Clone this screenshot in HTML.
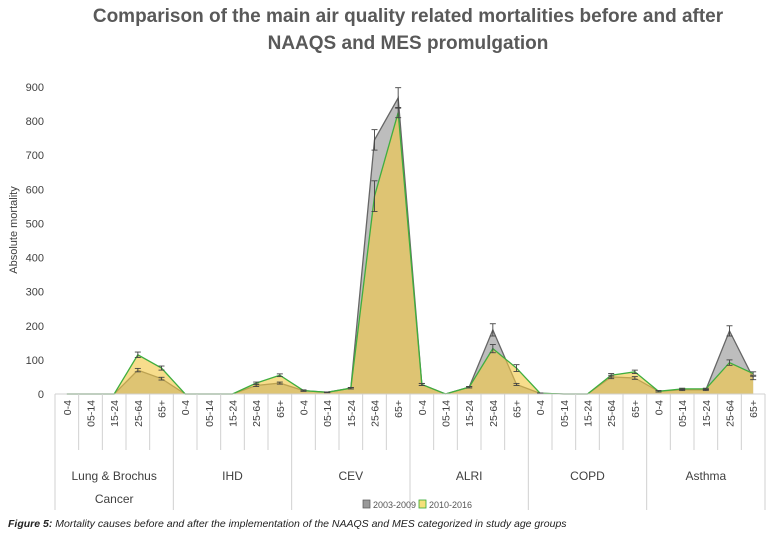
<!DOCTYPE html>
<html><head><meta charset="utf-8"><style>
body{margin:0;background:#fff;width:770px;height:540px;overflow:hidden;font-family:"Liberation Sans",sans-serif}
</style></head><body>
<svg id="chart" width="770" height="540" xmlns="http://www.w3.org/2000/svg" font-family="Liberation Sans, sans-serif">
<text x="408" y="22" text-anchor="middle" font-size="19" font-weight="bold" fill="#595959">Comparison of the main air quality related mortalities before and after</text>
<text x="408" y="49" text-anchor="middle" font-size="19" font-weight="bold" fill="#595959">NAAQS and MES promulgation</text>
<text transform="translate(17,230) rotate(-90)" text-anchor="middle" font-size="11" fill="#404040">Absolute mortality</text>
<g id="yaxis"></g><g id="areas"></g><g id="xaxis"></g>
<g>
<rect x="363" y="500" width="7" height="8" fill="#999" stroke="#555" stroke-width="0.7"/>
<text x="373" y="508" font-size="9" fill="#555">2003-2009</text>
<rect x="419" y="500" width="7" height="8" fill="#f5e07a" stroke="#3a3" stroke-width="0.8"/>
<text x="429" y="508" font-size="9" fill="#555">2010-2016</text>
</g>
<text x="8" y="527" font-size="10.5" font-style="italic" fill="#222"><tspan font-weight="bold">Figure 5:</tspan> Mortality causes before and after the implementation of the NAAQS and MES categorized in study age groups</text>
</svg>
<script>
const groups=["Lung & Brochus|Cancer","IHD","CEV","ALRI","COPD","Asthma"];
const ages=["0-4","05-14","15-24","25-64","65+"];
const gray=[0,0,0,70,45, 0,0,0,25,32, 10,5,17,745,868, 28,0,20,188,28, 2,0,0,50,47, 8,12,12,185,47];
const green=[0,0,0,115,76, 0,0,0,32,55, 10,5,17,580,825, 28,0,20,133,76, 2,0,0,55,65, 8,15,15,92,60];
const grayErr=[0,0,0,5,4, 0,0,0,3,3, 2,1,2,30,30, 3,0,2,18,3, 1,0,0,5,4, 2,2,2,15,5];
const greenErr=[0,0,0,8,6, 0,0,0,3,4, 2,1,2,45,15, 3,0,2,12,10, 1,0,0,5,5, 2,2,2,8,5];
const yTicks=[0,100,200,300,400,500,600,700,800,900];
const NS="http://www.w3.org/2000/svg";
const x0=55,x1=765,yb=394,yt=87,yMax=900;
const n=gray.length,cw=(x1-x0)/n;
const X=i=>x0+cw*(i+0.5), Y=v=>yb-(v/yMax)*(yb-yt);
function mk(t,a,p){const e=document.createElementNS(NS,t);for(const k in a)e.setAttribute(k,a[k]);p.appendChild(e);return e;}
const ya=document.getElementById('yaxis');
yTicks.forEach(v=>{const t=mk('text',{x:44,y:Y(v)+4,'text-anchor':'end','font-size':11,fill:'#404040'},ya);


t.textContent=v;});
const ar=document.getElementById('areas');
function area(vals,fill,stroke,name){
 let d=`M${X(0)},${Y(0)}`;vals.forEach((v,i)=>d+=`L${X(i)},${Y(v)}`);d+=`L${X(n-1)},${Y(0)}Z`;
 const p=mk('path',{d,fill,stroke:'none'},ar);
 
 
 const l=mk('polyline',{points:vals.map((v,i)=>X(i)+','+Y(v)).join(' '),fill:'none',stroke,'stroke-width':1.3},ar);
 
 
}
function errs(vals,er,name){vals.forEach((v,i)=>{if(!er[i])return;const g=mk('g',{stroke:'#444','stroke-width':0.9},ar);
 
 
 mk('line',{x1:X(i),x2:X(i),y1:Y(v+er[i]),y2:Y(Math.max(0,v-er[i]))},g);
 mk('line',{x1:X(i)-3,x2:X(i)+3,y1:Y(v+er[i]),y2:Y(v+er[i])},g);
 mk('line',{x1:X(i)-3,x2:X(i)+3,y1:Y(Math.max(0,v-er[i])),y2:Y(Math.max(0,v-er[i]))},g);});}
area(gray,'#bdbdbd','#666','series-2003-2009');
area(green,'rgba(242,200,70,0.62)','#3fae3f','series-2010-2016');
errs(gray,grayErr,'series-2003-2009');errs(green,greenErr,'series-2010-2016');
const xa=document.getElementById('xaxis');
mk('line',{x1:x0,x2:x1,y1:yb,y2:yb,stroke:'#d0d0d0'},xa);
for(let i=0;i<=n;i++){const grp=i%5===0;mk('line',{x1:x0+cw*i,x2:x0+cw*i,y1:yb,y2:grp?510:450,stroke:'#d0d0d0'},xa);}
for(let i=0;i<n;i++){const t=mk('text',{transform:`translate(${X(i)+4},${yb+6}) rotate(-90)`,'text-anchor':'end','font-size':10.5,fill:'#404040'},xa);
 
 
 t.textContent=ages[i%5];}
groups.forEach((g,k)=>{const cx=x0+cw*(k*5+2.5);g.split('|').forEach((s,j)=>{const t=mk('text',{x:cx,y:480+j*23,'text-anchor':'middle','font-size':12,fill:'#404040'},xa);
 
 
 t.textContent=s;});});
</script>
</body></html>
